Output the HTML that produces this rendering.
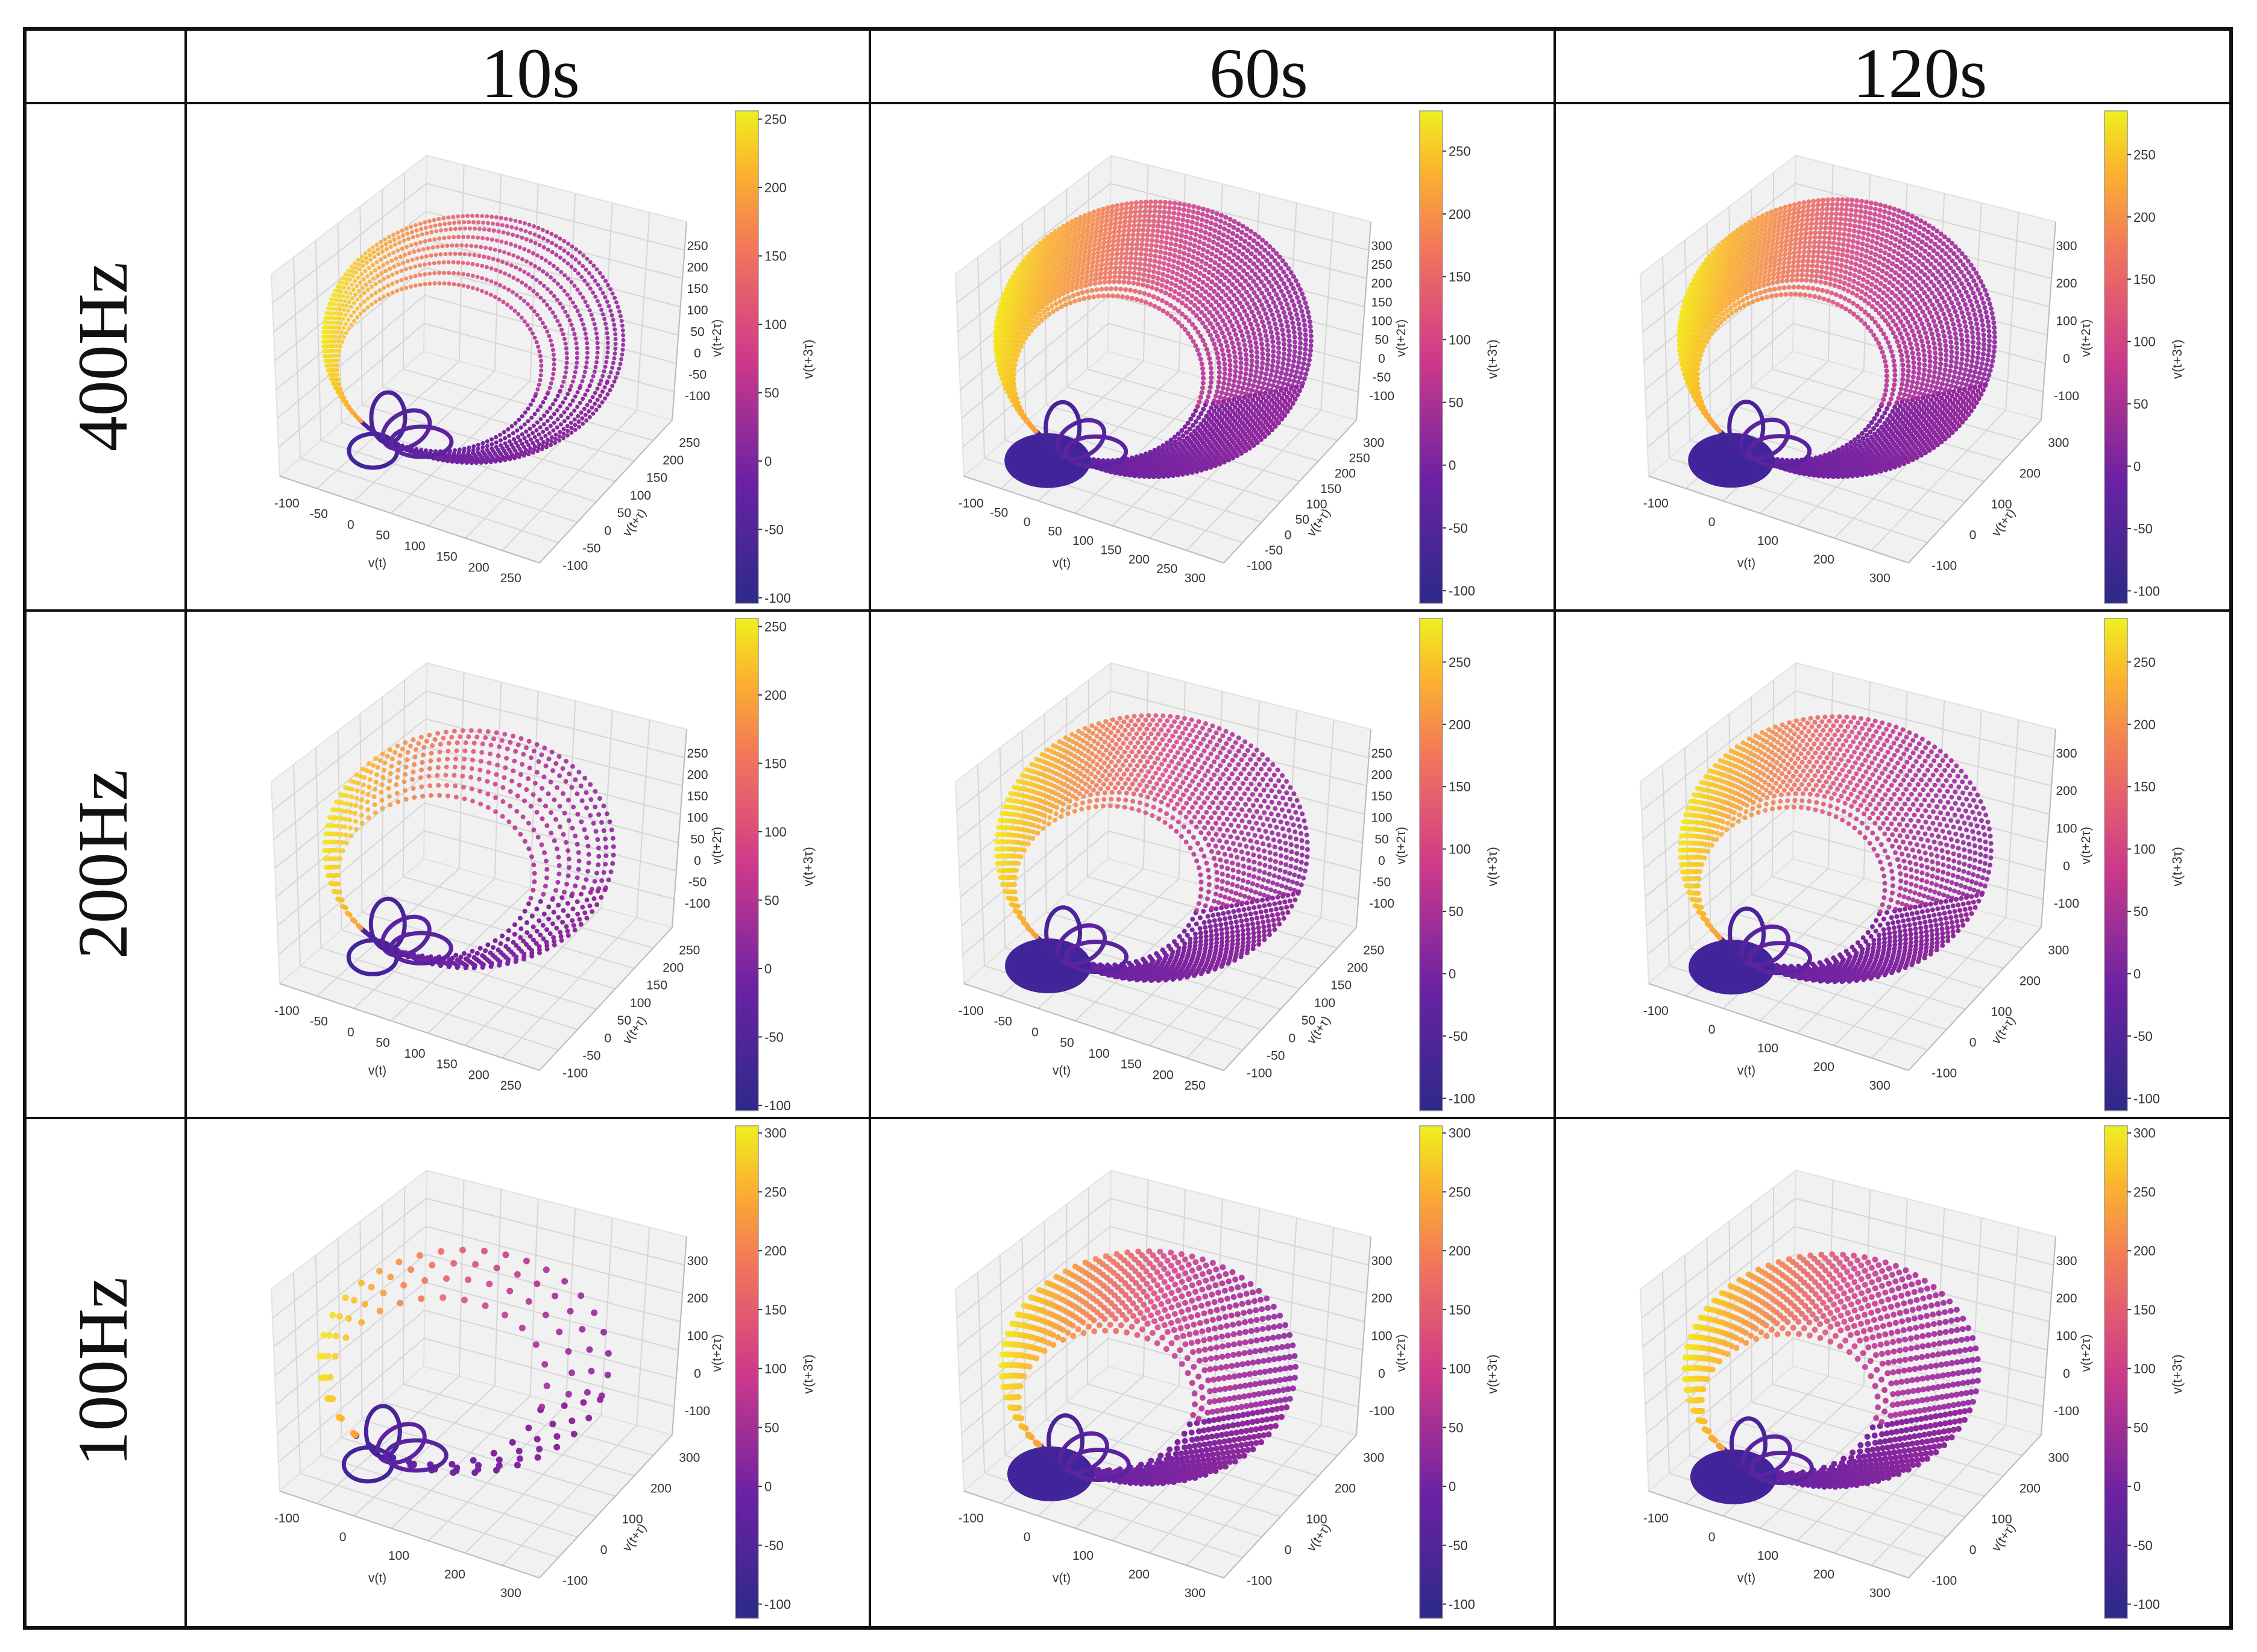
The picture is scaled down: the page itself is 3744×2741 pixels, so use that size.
<!DOCTYPE html>
<html><head><meta charset="utf-8">
<style>
html,body{margin:0;padding:0;background:#fff;}
svg{display:block;}
</style></head>
<body>
<svg id="fig" xmlns="http://www.w3.org/2000/svg" width="3744" height="2741" viewBox="0 0 3744 2741">
<rect x="0" y="0" width="3744" height="2741" fill="#fff"/>
<g id="table" stroke="#111" fill="none">
<rect x="41" y="48" width="3660" height="2653" stroke-width="6"/>
<line x1="308" y1="48" x2="308" y2="2701" stroke-width="4"/>
<line x1="1443" y1="48" x2="1443" y2="2701" stroke-width="4"/>
<line x1="2579" y1="48" x2="2579" y2="2701" stroke-width="4"/>
<line x1="41" y1="171" x2="3701" y2="171" stroke-width="4"/>
<line x1="41" y1="1013" x2="3701" y2="1013" stroke-width="4"/>
<line x1="41" y1="1855" x2="3701" y2="1855" stroke-width="4"/>
</g>
<g font-family="'Liberation Serif', serif" font-size="118" fill="#111" text-anchor="middle">
<text x="880" y="161">10s</text>
<text x="2088" y="161">60s</text>
<text x="3185" y="161">120s</text>
<text transform="translate(210,592) rotate(-90)">400Hz</text>
<text transform="translate(210,1434) rotate(-90)">200Hz</text>
<text transform="translate(210,2276) rotate(-90)">100Hz</text>
</g>
<defs>
<linearGradient id="cbgrad" x1="0" y1="1" x2="0" y2="0">
<stop offset="0" stop-color="#2c2a88"/>
<stop offset="0.25" stop-color="#6b22a3"/>
<stop offset="0.5" stop-color="#cf3a8a"/>
<stop offset="0.72" stop-color="#f2765a"/>
<stop offset="0.88" stop-color="#fbb42e"/>
<stop offset="1" stop-color="#eef01f"/>
</linearGradient>
</defs>
<g id="panels"></g>
</svg>
<script>
// ---- data ----
const panelCols = [0,1,2, 0,1,2, 0,1,2];
const panelRows = [0,0,0, 1,1,1, 2,2,2];
const cbMin = [-104,-110,-110, -104,-110,-110, -112,-112,-112];
const cbMax = [256,282,285, 256,285,285, 306,306,306];
const cbTicksA = [-100,-50,0,50,100,150,200,250];
const cbTicksB = [-100,-50,0,50,100,150,200,250,300];
const axisTicks = [
 [-100,-50,0,50,100,150,200,250],
 [-100,-50,0,50,100,150,200,250,300],
 [-100,0,100,200,300],
 [-100,-50,0,50,100,150,200,250],
 [-100,-50,0,50,100,150,200,250],
 [-100,0,100,200,300],
 [-100,0,100,200,300],
 [-100,0,100,200,300],
 [-100,0,100,200,300]
];
const ringCx = [477,470,468, 470,468,466, 462,462,459];
const ringCy = [392,392,390, 396,394,396, 404,414,419];
const ringRx = [249,262,262, 240,258,258, 240,244,244];
const ringRy = [205,228,230, 197,220,220, 185,193,193];
const loopScalesDense = [0.6,0.63,0.66,0.68,0.7,0.72,0.74,0.76,0.78,0.8,0.82,0.84,0.86,0.88,0.9,0.92,0.94,0.96,0.98,1.0];
const loopScalesMid = [0.68,0.73,0.78,0.82,0.86,0.9,0.94,0.97,1.0];
const loopScalesSparse = [0.75,0.85,0.93,1.0];
const density = ['mid','dense','dense','mid','dense','dense','sparse','dense','dense'];
const dotGap = [8,8,8, 14,12,12, 36,18,18];
const dotSize = [7,8,8, 8,8,8, 11,10,10];

const cols=[308,1443,2579], rows=[171,1013,1855];
const NS='http://www.w3.org/2000/svg';
const root=document.getElementById('panels');
function mk(tag, attrs, parent){const e=document.createElementNS(NS,tag);for(const k in attrs)e.setAttribute(k,attrs[k]);(parent||root).appendChild(e);return e;}
function lerp(a,b,t){return [a[0]+(b[0]-a[0])*t, a[1]+(b[1]-a[1])*t];}
function arcPath(cx,cy,rx,ry,a0,a1){let d='';const n=60;for(let i=0;i<=n;i++){const a=(a0+(a1-a0)*i/n)*Math.PI/180;d+=(i?'L':'M')+(cx+rx*Math.cos(a)).toFixed(1)+' '+(cy+ry*Math.sin(a)).toFixed(1);}return d;}

for(let p=0;p<9;p++){
 const ox=cols[panelCols[p]], oy=rows[panelRows[p]];
 const g=mk('g',{transform:`translate(${ox},${oy})`});
 
 
 const TB=[400,87],TL=[142,284],TR=[831,197],BB=[395,412],BL=[156,619],BR=[807,526],F=[587,763];
 const pane=(pts)=>mk('polygon',{points:pts.map(q=>q.join(',')).join(' '),fill:'#f1f1f1',stroke:'#e2e2e2','stroke-width':2},g);
 pane([TL,TB,BB,BL]);pane([TB,TR,BR,BB]);pane([BL,BB,BR,F]);
 const gl=(a,b)=>mk('line',{x1:a[0],y1:a[1],x2:b[0],y2:b[1],stroke:'#d6d6d6','stroke-width':2},g);
 for(let i=1;i<7;i++){const t=i/7;
  gl(lerp(TL,TB,t),lerp(BL,BB,t)); gl(lerp(TL,BL,t),lerp(TB,BB,t));
  gl(lerp(TB,TR,t),lerp(BB,BR,t)); gl(lerp(TB,BB,t),lerp(TR,BR,t));
  gl(lerp(BL,BB,t),lerp(F,BR,t)); gl(lerp(BL,F,t),lerp(BB,BR,t));
 }
 mk('line',{x1:BL[0],y1:BL[1],x2:F[0],y2:F[1],stroke:'#bbb','stroke-width':2},g);
 mk('line',{x1:F[0],y1:F[1],x2:BR[0],y2:BR[1],stroke:'#bbb','stroke-width':2},g);
 mk('line',{x1:BR[0],y1:BR[1],x2:TR[0],y2:TR[1],stroke:'#bbb','stroke-width':2},g);
 const tk=axisTicks[p];const lo=tk[0],hi=tk[tk.length-1],sp=hi-lo,a0=lo-0.08*sp,a1=hi+0.08*sp;
 const tg=mk('g',{'font-family':"'Liberation Sans','DejaVu Sans',sans-serif",'font-size':21,fill:'#333','text-anchor':'middle'},g);
 tk.forEach(v=>{const t=(v-a0)/(a1-a0);
  let q=lerp(BL,F,t);const tx=mk('text',{x:q[0]-18,y:q[1]+42},tg);tx.textContent=v;
  
  
  q=lerp(F,BR,t);const ty=mk('text',{x:q[0]+44,y:q[1]+28},tg);ty.textContent=v;
  
  
  const zy=BR[1]-20-(BR[1]-TR[1]-40)*t;
  const tz=mk('text',{x:BR[0]+42,y:zy+7},tg);tz.textContent=v;
  
  
 });
 const xl=mk('text',{x:318,y:770},tg);xl.textContent='v(t)';
 
 
 const yl=mk('text',{x:0,y:0,transform:'translate(750,700) rotate(-55)'},tg);yl.textContent='v(t+τ)';
 
 
 const zl=mk('text',{x:0,y:0,transform:'translate(888,390) rotate(-90)'},tg);zl.textContent='v(t+2τ)';
 
 
 const Cx=ringCx[p],Cy=ringCy[p],Rx=ringRx[p],Ry=ringRy[p];
 const gid='ag'+p;
 const defs=mk('defs',{},g);
 const lg=mk('linearGradient',{id:gid,gradientUnits:'userSpaceOnUse',x1:Cx-Rx,y1:Cy-Ry*0.1,x2:Cx+Rx,y2:Cy+Ry*0.3},defs);
 [['0','#f4e81f'],['0.12','#fbb22f'],['0.3','#f2795a'],['0.5','#d8498a'],['0.7','#b02e98'],['1','#8a22a0']].forEach(s=>mk('stop',{offset:s[0],'stop-color':s[1]},lg));
 const lg2=mk('linearGradient',{id:gid+'b',gradientUnits:'userSpaceOnUse',x1:Cx-Rx,y1:Cy,x2:Cx+Rx,y2:Cy},defs);
 [['0','#3a2392'],['0.35','#6a22a2'],['1','#9a2a9c']].forEach(s=>mk('stop',{offset:s[0],'stop-color':s[1]},lg2));
 const scales=density[p]==='dense'?loopScalesDense:(density[p]==='mid'?loopScalesMid:loopScalesSparse);
 const Px=Cx+Rx*Math.cos(135*Math.PI/180), Py=Cy+Ry*Math.sin(135*Math.PI/180);
 const ag=mk('g',{fill:'none','stroke-linecap':'round'},g);
 
 
 const dash=`0 ${dotGap[p]}`, sw=dotSize[p];
 scales.forEach(s=>{const rx=Rx*s,ry=Ry*s;const cx=Px-rx*Math.cos(135*Math.PI/180),cy=Py-ry*Math.sin(135*Math.PI/180);
  mk('path',{d:arcPath(cx,cy,rx,ry,20,140),stroke:`url(#${gid}b)`,'stroke-width':sw,'stroke-dasharray':dash},ag);
 });
 scales.forEach(s=>{const rx=Rx*s,ry=Ry*s;const cx=Px-rx*Math.cos(135*Math.PI/180),cy=Py-ry*Math.sin(135*Math.PI/180);
  mk('path',{d:arcPath(cx,cy,rx,ry,140,380),stroke:`url(#${gid})`,'stroke-width':sw,'stroke-dasharray':dash,opacity:0.9},ag);
 });
 const dense=density[p]==='dense';
 mk('ellipse',{cx:Px+10,cy:Py+40,rx:dense?68:40,ry:dense?42:28,fill:dense?'#40249a':'none',stroke:'#43249a','stroke-width':7},ag);
 mk('ellipse',{cx:Px+65,cy:Py+5,rx:42,ry:28,fill:'none',stroke:'#5a23a0','stroke-width':7,transform:`rotate(-30 ${Px+65} ${Py+5})`},ag);
 mk('ellipse',{cx:Px+35,cy:Py-15,rx:28,ry:42,fill:'none',stroke:'#4a2399','stroke-width':7},ag);
 mk('ellipse',{cx:Px+90,cy:Py+25,rx:50,ry:25,fill:'none',stroke:'#5b249e','stroke-width':7},ag);
 const cb=mk('g',{},g);
 
 
 mk('rect',{x:912,y:13,width:38,height:817,fill:'url(#cbgrad)',stroke:'#999','stroke-width':1.5},cb);
 const cticks=panelRows[p]===2?cbTicksB:cbTicksA;
 const ctg=mk('g',{'font-family':"'Liberation Sans','DejaVu Sans',sans-serif",'font-size':22,fill:'#333'},cb);
 cticks.forEach(v=>{const y=830-(v-cbMin[p])/(cbMax[p]-cbMin[p])*817;
  mk('line',{x1:950,y1:y,x2:956,y2:y,stroke:'#333','stroke-width':2},ctg);
  const t=mk('text',{x:960,y:y+8},ctg);t.textContent=v;
  
  
 });
 const cl=mk('text',{x:0,y:0,transform:'translate(1040,425) rotate(-90)','text-anchor':'middle'},ctg);cl.textContent='v(t+3τ)';
 
 
}
</script>
</body></html>
